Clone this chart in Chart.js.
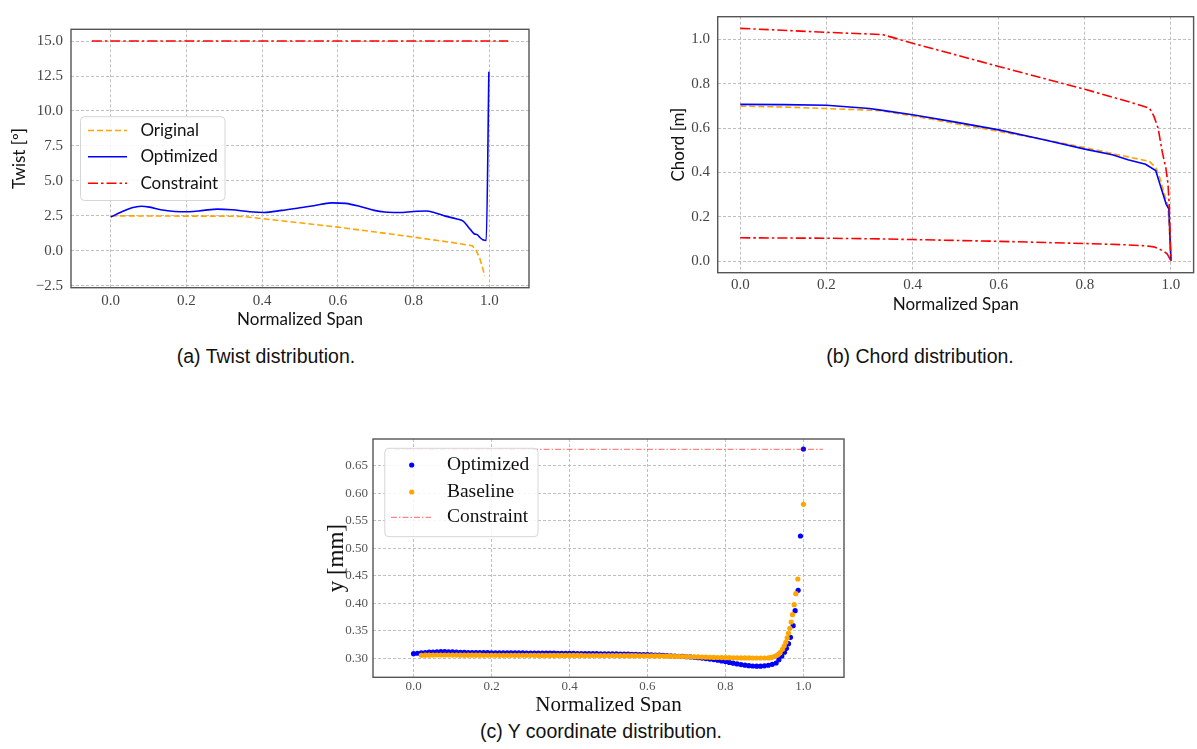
<!DOCTYPE html>
<html>
<head>
<meta charset="utf-8">
<title>Blade distributions</title>
<script src="https://cdn.jsdelivr.net/npm/chart.js@4.4.1/dist/chart.umd.min.js"></script>
<style>
  body { margin: 0; background: #fff; }
  #page { position: relative; width: 1197px; height: 749px; overflow: hidden; background: #fff; }
  .panel { position: absolute; overflow: hidden; }
  .panel canvas { display: block; }
  .caption { position: absolute; transform: translateX(-50%); white-space: nowrap;
             font-family: "Liberation Sans", Arial, sans-serif; font-size: 19.5px; line-height: 19px; color: #111; }
</style>
</head>
<body>
<div id="page">
  <div class="panel" style="left:0;top:0;width:560px;height:340px"><canvas id="twistChart" width="560" height="340"></canvas></div>
  <div class="panel" style="left:620px;top:0;width:577px;height:340px"><canvas id="chordChart" width="577" height="340"></canvas></div>
  <div class="panel" style="left:320px;top:420px;width:540px;height:292px"><canvas id="yChart" width="540" height="310"></canvas></div>
  <div class="caption" style="left:266px;top:347px">(a) Twist distribution.</div>
  <div class="caption" style="left:920px;top:347px">(b) Chord distribution.</div>
  <div class="caption" style="left:601px;top:722px">(c) Y coordinate distribution.</div>
</div>
<script>
// ---- tick labels ----
const spanTicks = [0, 0.2, 0.4, 0.6, 0.8, 1.0];
const twistTicks = [-2.5, 0, 2.5, 5, 7.5, 10, 12.5, 15];
const chordTicks = [0, 0.2, 0.4, 0.6, 0.8, 1.0];
const yCoordTicks = [0.30, 0.35, 0.40, 0.45, 0.50, 0.55, 0.60, 0.65];

// ---- (a) twist ----
const twistOrigSpan = [0, 0.1, 0.2, 0.3, 0.35, 0.4, 0.5, 0.6, 0.7, 0.8, 0.9, 0.94, 0.955, 0.965, 0.975, 0.982, 0.988];
const twistOrig = [2.5, 2.49, 2.48, 2.48, 2.45, 2.3, 2.0, 1.69, 1.34, 0.98, 0.6, 0.42, 0.36, 0.05, -0.55, -1.17, -1.8];
const twistOptSpan = [0, 0.028, 0.056, 0.08, 0.103, 0.132, 0.169, 0.207, 0.245, 0.282, 0.32, 0.367, 0.405, 0.452,
  0.5, 0.536, 0.583, 0.62, 0.659, 0.696, 0.724, 0.762, 0.8, 0.833, 0.856, 0.884, 0.912, 0.931, 0.945, 0.96,
  0.969, 0.976, 0.983, 0.992, 0.999];
const twistOpt = [2.41, 2.77, 3.08, 3.19, 3.12, 2.93, 2.81, 2.79, 2.89, 2.98, 2.93, 2.79, 2.74, 2.89,
  3.08, 3.22, 3.43, 3.39, 3.17, 2.89, 2.77, 2.74, 2.81, 2.84, 2.72, 2.48, 2.29, 2.12, 1.69, 1.22,
  1.14, 0.93, 0.79, 0.74, 12.8];
const twistLimitSpan = [-0.05, 1.05];
const twistLimit = [15, 15];

// ---- (b) chord ----
const chordOrigSpan = [0, 0.1, 0.2, 0.3, 0.33, 0.4, 0.5, 0.6, 0.7, 0.8, 0.9, 0.95, 0.965, 0.975, 0.984, 0.993, 1.0];
const chordOrig = [0.699, 0.695, 0.688, 0.681, 0.678, 0.655, 0.62, 0.585, 0.55, 0.512, 0.47, 0.45, 0.42, 0.37, 0.307, 0.25, 0.0];
const chordOptSpan = [0, 0.1, 0.2, 0.3, 0.33, 0.4, 0.5, 0.6, 0.7, 0.8, 0.864, 0.9, 0.941, 0.9645, 0.976, 0.989, 0.995, 1.0];
const chordOpt = [0.707, 0.706, 0.703, 0.688, 0.68, 0.66, 0.627, 0.592, 0.55, 0.505, 0.48, 0.457, 0.437, 0.408, 0.336, 0.256, 0.235, 0.004];
const chordUpperSpan = [0, 0.2, 0.33, 0.4, 0.6, 0.8, 0.9, 0.95, 0.96, 0.97, 0.98, 0.988, 0.993, 0.996, 0.999, 1.0];
const chordUpper = [1.05, 1.032, 1.022, 0.983, 0.878, 0.775, 0.72, 0.69, 0.655, 0.6, 0.49, 0.42, 0.35, 0.25, 0.05, 0.0];
const chordLowerSpan = [0, 0.2, 0.324, 0.4, 0.602, 0.8025, 0.9, 0.941, 0.96, 0.972, 0.985, 0.991, 1.0];
const chordLower = [0.105, 0.103, 0.1, 0.097, 0.089, 0.079, 0.073, 0.069, 0.064, 0.055, 0.042, 0.033, 0.0];

// ---- (c) y coordinate ----
const optSpan = [
  0.00, 0.01, 0.02, 0.03, 0.04, 0.05, 0.06, 0.07, 0.08, 0.09,
  0.10, 0.11, 0.12, 0.13, 0.14, 0.15, 0.16, 0.17, 0.18, 0.19,
  0.20, 0.21, 0.22, 0.23, 0.24, 0.25, 0.26, 0.27, 0.28, 0.29,
  0.30, 0.31, 0.32, 0.33, 0.34, 0.35, 0.36, 0.37, 0.38, 0.39,
  0.40, 0.41, 0.42, 0.43, 0.44, 0.45, 0.46, 0.47, 0.48, 0.49,
  0.50, 0.51, 0.52, 0.53, 0.54, 0.55, 0.56, 0.57, 0.58, 0.59,
  0.60, 0.61, 0.62, 0.63, 0.64, 0.65, 0.66, 0.67, 0.68, 0.69,
  0.70, 0.71, 0.72, 0.73, 0.74, 0.75, 0.76, 0.77, 0.78, 0.79,
  0.80, 0.81, 0.82, 0.83, 0.84, 0.85, 0.86, 0.87, 0.88, 0.89,
  0.90, 0.91, 0.92, 0.93,
  0.937, 0.9445, 0.9513, 0.9564, 0.9616, 0.9667, 0.9736, 0.9787, 0.9864, 0.9923, 1.0];
const optY = [
  0.3084, 0.3092, 0.3100, 0.3106, 0.3111, 0.3115, 0.3118, 0.3120, 0.3120, 0.3119,
  0.3116, 0.3113, 0.3110, 0.3108, 0.3106, 0.3105, 0.3104, 0.3103, 0.3102, 0.3102,
  0.3101, 0.3101, 0.3100, 0.3100, 0.3100, 0.3099, 0.3099, 0.3098, 0.3098, 0.3097,
  0.3097, 0.3096, 0.3096, 0.3095, 0.3094, 0.3094, 0.3093, 0.3092, 0.3091, 0.3091,
  0.3090, 0.3089, 0.3088, 0.3088, 0.3087, 0.3086, 0.3085, 0.3084, 0.3083, 0.3083,
  0.3082, 0.3081, 0.3080, 0.3078, 0.3077, 0.3075, 0.3073, 0.3071, 0.3069, 0.3067,
  0.3066, 0.3063, 0.3060, 0.3057, 0.3053, 0.3050, 0.3046, 0.3042, 0.3038, 0.3034,
  0.3030, 0.3025, 0.3019, 0.3012, 0.3004, 0.2996, 0.2987, 0.2977, 0.2966, 0.2953,
  0.2940, 0.2926, 0.2912, 0.2898, 0.2886, 0.2875, 0.2866, 0.2860, 0.2857, 0.2858,
  0.2864, 0.2874, 0.2890, 0.2915,
  0.2975, 0.3040, 0.3110, 0.3182, 0.3266, 0.3382, 0.3593, 0.3866, 0.4236, 0.5224, 0.6805];
const baseSpan = [
  0.02, 0.03, 0.04, 0.05, 0.06, 0.07, 0.08, 0.09, 0.10,
  0.11, 0.12, 0.13, 0.14, 0.15, 0.16, 0.17, 0.18, 0.19, 0.20,
  0.21, 0.22, 0.23, 0.24, 0.25, 0.26, 0.27, 0.28, 0.29, 0.30,
  0.31, 0.32, 0.33, 0.34, 0.35, 0.36, 0.37, 0.38, 0.39, 0.40,
  0.41, 0.42, 0.43, 0.44, 0.45, 0.46, 0.47, 0.48, 0.49, 0.50,
  0.51, 0.52, 0.53, 0.54, 0.55, 0.56, 0.57, 0.58, 0.59, 0.60,
  0.61, 0.62, 0.63, 0.64, 0.65, 0.66, 0.67, 0.68, 0.69, 0.70,
  0.71, 0.72, 0.73, 0.74, 0.75, 0.76, 0.77, 0.78, 0.79, 0.80,
  0.81, 0.82, 0.83, 0.84, 0.85, 0.86, 0.87, 0.88, 0.89, 0.90, 0.91,
  0.915, 0.919, 0.925, 0.9317, 0.9365, 0.9402, 0.9462, 0.9505, 0.9548, 0.9582,
  0.9616, 0.9651, 0.9685, 0.9719, 0.9762, 0.9805, 0.9856, 1.0];
const baseY = [
  0.3055, 0.3057, 0.3058, 0.3059, 0.3060, 0.3060, 0.3060, 0.3060, 0.3059,
  0.3059, 0.3058, 0.3058, 0.3058, 0.3057, 0.3057, 0.3057, 0.3056, 0.3056, 0.3056,
  0.3056, 0.3055, 0.3055, 0.3055, 0.3055, 0.3055, 0.3054, 0.3054, 0.3054, 0.3054,
  0.3054, 0.3053, 0.3053, 0.3053, 0.3053, 0.3053, 0.3053, 0.3052, 0.3052, 0.3052,
  0.3052, 0.3052, 0.3052, 0.3051, 0.3051, 0.3051, 0.3051, 0.3051, 0.3050, 0.3050,
  0.3050, 0.3050, 0.3049, 0.3049, 0.3049, 0.3048, 0.3048, 0.3047, 0.3047, 0.3046,
  0.3045, 0.3044, 0.3043, 0.3042, 0.3040, 0.3039, 0.3037, 0.3035, 0.3033, 0.3031,
  0.3029, 0.3027, 0.3025, 0.3023, 0.3021, 0.3019, 0.3017, 0.3015, 0.3013, 0.3012,
  0.3011, 0.3010, 0.3009, 0.3008, 0.3007, 0.3007, 0.3006, 0.3006, 0.3006, 0.3006, 0.3007,
  0.3010, 0.3018, 0.3033, 0.3055, 0.3078, 0.3102, 0.3164, 0.3224, 0.3290, 0.3370,
  0.3455, 0.3545, 0.3660, 0.3793, 0.3975, 0.4175, 0.4442, 0.5800];
const yLimitSpan = [-0.05, 1.05];
const yLimit = [0.68, 0.68];

const ORANGE = "#ffa500";
const BLUE = "#0000ff";
const RED = "#ff0000";

const toPoints = (xs, ys) => xs.map((x, i) => ({ x, y: ys[i] }));
const fmt = (v, d) => v.toFixed(d).replace("-", "\u2212");

// box around the axes + legend drawn inside the plot
const frame = {
  id: "frame",
  afterDatasetsDraw(chart, args, opts) {
    const { ctx, chartArea: a } = chart;
    ctx.save();
    ctx.strokeStyle = "#555";
    ctx.lineWidth = 1.4;
    ctx.strokeRect(a.left, a.top, a.right - a.left, a.bottom - a.top);
    if (opts.box) drawLegend(chart, opts);
    ctx.restore();
  }
};

function drawLegend(chart, opts) {
  const ctx = chart.ctx;
  const [l, t, r, b] = opts.box;
  const rad = 4;
  ctx.beginPath();
  ctx.moveTo(l + rad, t);
  ctx.arcTo(r, t, r, b, rad);
  ctx.arcTo(r, b, l, b, rad);
  ctx.arcTo(l, b, l, t, rad);
  ctx.arcTo(l, t, r, t, rad);
  ctx.closePath();
  ctx.fillStyle = "rgba(255,255,255,0.85)";
  ctx.fill();
  ctx.strokeStyle = "#d6d6d6";
  ctx.lineWidth = 1;
  ctx.stroke();

  ctx.font = opts.font;
  ctx.textBaseline = "middle";
  ctx.textAlign = "left";
  chart.data.datasets.forEach((ds, i) => {
    const y = opts.rows[i];
    if (ds.showLine === false) {
      ctx.beginPath();
      ctx.arc(opts.markX, y, ds.pointRadius, 0, Math.PI * 2);
      ctx.fillStyle = ds.backgroundColor;
      ctx.fill();
    } else {
      ctx.beginPath();
      ctx.setLineDash(ds.borderDash || []);
      ctx.strokeStyle = ds.borderColor;
      ctx.lineWidth = ds.borderWidth;
      ctx.moveTo(opts.lineX[0], y);
      ctx.lineTo(opts.lineX[1], y);
      ctx.stroke();
      ctx.setLineDash([]);
    }
    ctx.fillStyle = "#111";
    ctx.fillText(ds.label, opts.textX, y);
  });
}

function axis(o) {
  return {
    type: "linear",
    min: o.min,
    max: o.max,
    afterBuildTicks: s => { s.ticks = o.ticks.map(v => ({ value: v })); },
    afterFit: s => { if (o.horizontal) s.height = o.size; else s.width = o.size; },
    grid: { color: "#b0b0b0", lineWidth: 0.8, drawTicks: false },
    border: { display: false, dash: [3, 2] },
    ticks: {
      autoSkip: false, maxRotation: 0, padding: o.pad, color: o.tickColor || "#444",
      font: o.tickFont, callback: v => fmt(v, o.digits)
    },
    title: {
      display: true, text: o.title, color: "#111", font: o.titleFont,
      padding: o.horizontal ? { top: 0, bottom: o.titlePad } : { top: o.titlePad, bottom: 0 }
    }
  };
}

function lineSet(label, xs, ys, color, dash, extra) {
  return Object.assign({
    label, data: toPoints(xs, ys), showLine: true, borderColor: color, backgroundColor: color,
    borderWidth: 1.6, borderDash: dash, pointRadius: 0, pointHoverRadius: 0, tension: 0
  }, extra || {});
}

const sansTitle = { family: "Lato", size: 17 };
const serifTick = { family: "Liberation Serif", size: 15 };
const DASH = [6, 3];
const DASHDOT = [10, 3, 2.5, 3];

const baseOptions = (pad) => ({
  responsive: false,
  animation: false,
  events: [],
  layout: { padding: pad },
  plugins: { legend: { display: false }, tooltip: { enabled: false } }
});

// (a) Twist
const twistOpts = baseOptions({ left: 0, right: 31, top: 29.3, bottom: 0 });
twistOpts.scales = {
  x: axis({ horizontal: true, min: -0.105, max: 1.105, ticks: spanTicks, size: 52.3, pad: 4, digits: 1,
    tickFont: serifTick, title: "Normalized Span", titleFont: sansTitle, titlePad: 9.8 }),
  y: axis({ min: -2.64, max: 15.84, ticks: twistTicks, size: 71, pad: 8, digits: 1,
    tickFont: serifTick, title: "Twist [\u00ba]", titleFont: sansTitle, titlePad: 9.8 })
};
twistOpts.plugins.frame = { box: [80.5, 116.7, 225, 200.5], rows: [130.5, 156.7, 183.3],
  lineX: [88, 127], textX: 140.4, font: "17px Lato" };

new Chart(document.getElementById("twistChart"), {
  type: "scatter",
  data: {
    datasets: [
      lineSet("Original", twistOrigSpan, twistOrig, ORANGE, DASH, { order: 2 }),
      lineSet("Optimized", twistOptSpan, twistOpt, BLUE, [], { order: 1, cubicInterpolationMode: "monotone" }),
      lineSet("Constraint", twistLimitSpan, twistLimit, RED, DASHDOT, { order: 0 })
    ]
  },
  options: twistOpts,
  plugins: [frame]
});

// (b) Chord
const chordOpts = baseOptions({ left: 0, right: 3.4, top: 6, bottom: 0 });
chordOpts.scales = {
  x: axis({ horizontal: true, min: -0.0525, max: 1.0525, ticks: spanTicks, size: 67.3, pad: 3.3, digits: 1,
    tickFont: serifTick, title: "Normalized Span", titleFont: sansTitle, titlePad: 24.8 }),
  y: axis({ min: -0.0525, max: 1.1025, ticks: chordTicks, size: 97.7, pad: 7.7, digits: 1,
    tickFont: serifTick, title: "Chord [m]", titleFont: sansTitle, titlePad: 48.8 })
};
chordOpts.plugins.frame = {};

new Chart(document.getElementById("chordChart"), {
  type: "scatter",
  data: {
    datasets: [
      lineSet("Original", chordOrigSpan, chordOrig, ORANGE, DASH, { order: 3 }),
      lineSet("Optimized", chordOptSpan, chordOpt, BLUE, [], { order: 2 }),
      lineSet("Constraint", chordUpperSpan, chordUpper, RED, DASHDOT, { order: 1 }),
      lineSet("Constraint", chordLowerSpan, chordLower, RED, DASHDOT, { order: 0 })
    ]
  },
  options: chordOpts,
  plugins: [frame]
});

// (c) Y coordinate
const serifSmall = { family: "Liberation Serif", size: 13 };
const yOpts = baseOptions({ left: 0, right: 16, top: 19, bottom: 0 });
yOpts.scales = {
  x: axis({ horizontal: true, min: -0.104, max: 1.104, ticks: spanTicks, size: 52.7, pad: 1.2, digits: 1,
    tickFont: serifSmall, tickColor: "#555", title: "Normalized Span",
    titleFont: { family: "Liberation Serif", size: 21 }, titlePad: 12.4 }),
  y: axis({ min: 0.2655, max: 0.6987, ticks: yCoordTicks, size: 53, pad: 5, digits: 2,
    tickFont: serifSmall, tickColor: "#555", title: "y [mm]",
    titleFont: { family: "Liberation Serif", size: 23 }, titlePad: 3.2 })
};
yOpts.plugins.frame = { box: [64.8, 28.3, 218, 116.7], rows: [45, 72, 97.3],
  markX: 91.7, lineX: [71, 111], textX: 126.9, font: "19.5px \"Liberation Serif\"" };

new Chart(document.getElementById("yChart"), {
  type: "scatter",
  data: {
    datasets: [
      { label: "Optimized", data: toPoints(optSpan, optY), showLine: false, pointRadius: 2.6,
        pointBorderWidth: 0, backgroundColor: BLUE, borderColor: BLUE, order: 2 },
      { label: "Baseline", data: toPoints(baseSpan, baseY), showLine: false, pointRadius: 2.6,
        pointBorderWidth: 0, backgroundColor: ORANGE, borderColor: ORANGE, order: 1 },
      lineSet("Constraint", yLimitSpan, yLimit, "rgba(255,0,0,0.6)", [6, 2, 1.5, 2], { borderWidth: 1, order: 0 })
    ]
  },
  options: yOpts,
  plugins: [frame]
});
</script>
</body>
</html>
